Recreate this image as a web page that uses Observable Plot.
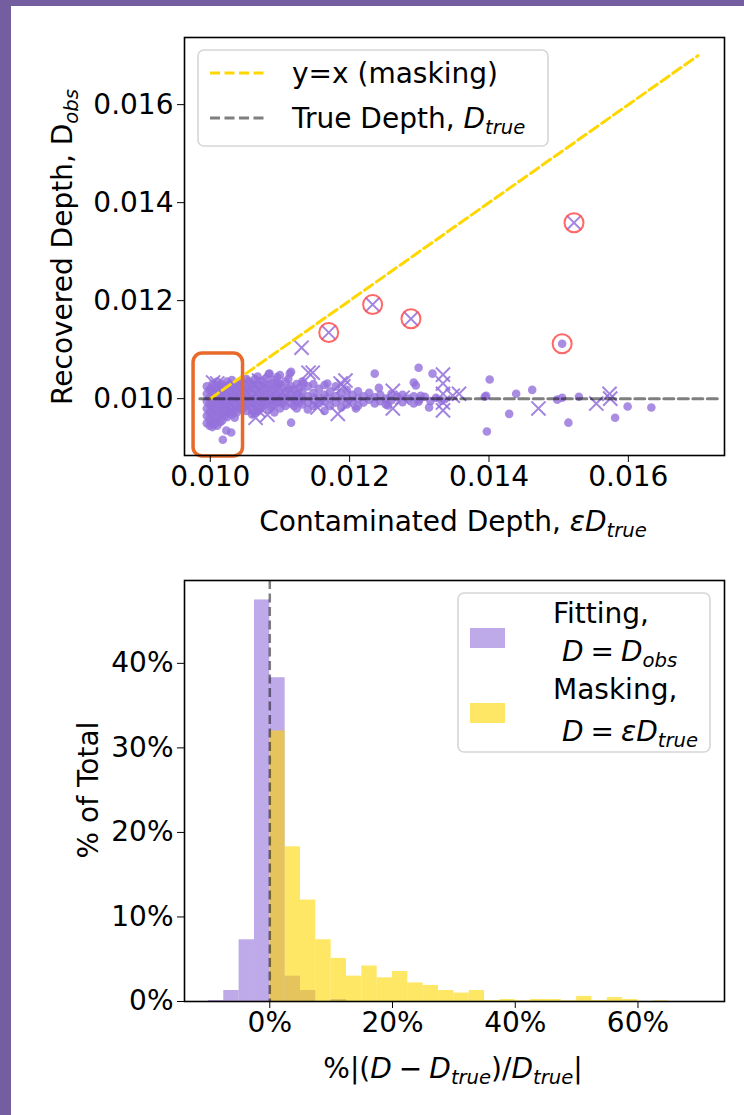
<!DOCTYPE html>
<html><head><meta charset="utf-8">
<script src="https://cdn.jsdelivr.net/npm/d3@7"></script>
<script src="https://cdn.jsdelivr.net/npm/@observablehq/plot@0.6"></script>
<style>
html,body{margin:0;padding:0;width:744px;height:1115px;overflow:hidden;background:#755ea0;font-family:"DejaVu Sans",sans-serif;}
#page{position:absolute;left:11px;top:6px;width:733px;height:1109px;background:#fff;}
#c1,#c2{position:absolute;left:0;}
#c1{top:0px} #c2{top:540px}
svg{overflow:visible}
</style></head><body><div id="page"></div><div id="c1"></div><div id="c2"></div>
<script>
// ---------- Top chart data (Contaminated depth vs recovered depth) ----------
const xTicks = [0.010, 0.012, 0.014, 0.016];
const yTicks = [0.010, 0.012, 0.014, 0.016];

// dense cluster of fitted dots, listed column by column: [x, [y values]]
const dotColumns = [
  [0.00995, [0.01025,0.01010,0.00995,0.00980,0.00965,0.00950]],
  [0.00999, [0.01018,0.01002,0.00988,0.00972,0.00958,0.00945]],
  [0.01003, [0.01030,0.01015,0.01000,0.00985,0.00970,0.00955,0.00942]],
  [0.01006, [0.01022,0.01008,0.00992,0.00978,0.00962,0.00948]],
  [0.01010, [0.01035,0.01020,0.01005,0.00990,0.00975,0.00960,0.00945]],
  [0.01014, [0.01028,0.01012,0.00997,0.00982,0.00967,0.00952]],
  [0.01017, [0.01030,0.01015,0.01000,0.00985,0.00970,0.00955]],
  [0.01021, [0.01025,0.01010,0.00995,0.00980,0.00965]],
  [0.01024, [0.01035,0.01020,0.01005,0.00990,0.00975,0.00962]],
  [0.01028, [0.01030,0.01015,0.01000,0.00985,0.00972]],
  [0.01031, [0.01038,0.01025,0.01010,0.00995,0.00980,0.00968]],
  [0.01035, [0.01022,0.01005,0.00990,0.00976]],
  [0.01038, [0.01030,0.01015,0.01000,0.00985,0.00972]],
  [0.01042, [0.01028,0.01012,0.00997,0.00982]],
  [0.01045, [0.01035,0.01020,0.01005,0.00990,0.00978]],
  [0.01049, [0.01030,0.01012,0.00997,0.00983]],
  [0.01052, [0.01040,0.01022,0.01005,0.00990,0.00975]],
  [0.01056, [0.01035,0.01018,0.01000,0.00985]],
  [0.01060, [0.01030,0.01012,0.00998,0.00982,0.00968]],
  [0.01064, [0.01040,0.01020,0.01003,0.00988,0.00972]],
  [0.01068, [0.01045,0.01025,0.01008,0.00992,0.00975]],
  [0.01072, [0.01028,0.01012,0.00995,0.00980]],
  [0.01076, [0.01035,0.01018,0.01000,0.00985]],
  [0.01080, [0.01040,0.01022,0.01005,0.00990]],
  [0.01084, [0.01050,0.01028,0.01010,0.00995,0.00978]],
  [0.01088, [0.01032,0.01015,0.00998,0.00983]],
  [0.01092, [0.01038,0.01020,0.01002,0.00988,0.00972]],
  [0.01096, [0.01044,0.01025,0.01008,0.00993]],
  [0.01100, [0.01048,0.01030,0.01012,0.00995,0.00980]],
  [0.01104, [0.01022,0.01005,0.00990]],
  [0.01108, [0.01035,0.01015,0.01000,0.00985]],
  [0.01112, [0.01040,0.01020,0.01003]],
  [0.01116, [0.01055,0.01025,0.01008,0.00990,0.00951]],
  [0.01120, [0.01018,0.01000,0.00985]],
  [0.01124, [0.01030,0.01010,0.00995,0.00980]],
  [0.01128, [0.01022,0.01005,0.00992]],
  [0.01132, [0.01035,0.01015,0.01000,0.00988]],
  [0.01140, [0.01025,0.01005,0.00992,0.00978]],
  [0.01148, [0.01030,0.01012,0.00998,0.00985]],
  [0.01156, [0.01020,0.01003,0.00990]],
  [0.01164, [0.01028,0.01008,0.00995,0.00975]],
  [0.01172, [0.01015,0.01000,0.00985]],
  [0.01180, [0.01025,0.01005,0.00992]],
  [0.01188, [0.01012,0.00998,0.00982]],
  [0.01196, [0.01018,0.01002,0.00988]],
  [0.01204, [0.01008,0.00995]],
  [0.01212, [0.01015,0.01000,0.00985]],
  [0.01220, [0.01005,0.00992]],
  [0.01228, [0.01012,0.00998]],
  [0.01236, [0.01003,0.00990]],
  [0.01244, [0.01008,0.00995]],
  [0.01252, [0.01000,0.00988]],
  [0.01260, [0.01010,0.00997]],
  [0.01268, [0.01003]],
  [0.01276, [0.01008,0.00993]],
  [0.01284, [0.01000]],
  [0.01292, [0.01005,0.00990]],
  [0.01300, [0.00998]],
  [0.01308, [0.01004]],
  [0.01316, [0.00995]],
  [0.01324, [0.01002]],
  [0.01332, [0.00996]]
];
// isolated fitted dots [x, y]
const dotsOther = [
  [0.01018,0.00916],[0.01023,0.00935],[0.01030,0.00931],[0.01035,0.00961],
  [0.01085,0.01051],[0.01114,0.01051],[0.01098,0.01031],[0.01134,0.01031],[0.01168,0.01031],
  [0.01236,0.01051],[0.01242,0.01022],[0.01209,0.00980],[0.01255,0.00986],
  [0.01299,0.01063],[0.01319,0.01051],[0.01292,0.01033],[0.01295,0.01027],
  [0.01302,0.01006],[0.01299,0.00994],[0.01314,0.00982],
  [0.01401,0.01039],[0.01396,0.01006],[0.01397,0.00933],[0.01394,0.01004],
  [0.01429,0.00969],[0.01439,0.01010],[0.01462,0.01018],[0.01498,0.00998],
  [0.01505,0.01002],[0.01529,0.01004],[0.01514,0.00951],[0.01581,0.00961],
  [0.01599,0.00984],[0.01633,0.00982],[0.01505,0.01112]
];
// fitted points drawn as crosses [x, y]
const crossPts = [
  [0.01170,0.01135],[0.01233,0.01192],[0.01288,0.01163],[0.01522,0.01359],[0.01131,0.01104],
  [0.01010,0.01031],[0.01004,0.01033],[0.01070,0.01037],[0.01062,0.01030],
  [0.01141,0.01053],[0.01147,0.01053],[0.01187,0.01031],[0.01191,0.01025],
  [0.01065,0.00961],[0.01069,0.00976],[0.01082,0.00967],[0.01154,0.00982],
  [0.01158,0.00996],[0.01183,0.00969],[0.01194,0.01037],[0.01199,0.00990],
  [0.01262,0.01016],[0.01262,0.00980],[0.01276,0.01002],
  [0.01334,0.01049],[0.01334,0.01031],[0.01334,0.01010],[0.01334,0.00992],[0.01334,0.00976],
  [0.01348,0.01006],[0.01357,0.01010],
  [0.01471,0.00980],[0.01554,0.00990],[0.01573,0.01010],[0.01574,0.01000]
];
// highlighted (circled) points [x, y]
const circledPts = [
  [0.01170,0.01135],[0.01233,0.01192],[0.01288,0.01163],[0.01522,0.01359],[0.01505,0.01112]
];
const diagEnds = [0.010, 0.017];          // y = x line
const trueDepth = 0.010;                  // D_true
const trueSpan = [0.00985, 0.0173];
const boxCorners = {x1:0.00976, x2:0.01047, y1:0.00882, y2:0.01092}; // highlighted region

// ---------- Bottom chart data (histograms, % of total) ----------
const binWidth = 2.5;
const fitBinStart  = [-10, -7.5, -5, -2.5, 0, 2.5, 5, 10];
const fitPct       = [0.12, 1.3, 7.3, 47.5, 38.3, 3.0, 1.3, 0.24];
const maskBinStart = [0, 2.5, 5, 7.5, 10, 12.5, 15, 17.5, 20, 22.5, 25, 27.5, 30, 32.5, 35, 37.5, 40, 42.5, 45, 47.5, 50, 52.5, 55, 57.5, 62.5];
const maskPct      = [32.0, 18.3, 12.0, 7.3, 5.1, 3.0, 4.2, 2.8, 3.55, 2.2, 1.9, 1.3, 1.0, 1.3, 0.12, 0.24, 0.08, 0.24, 0.24, 0.08, 0.6, 0.12, 0.47, 0.24, 0.08];
const hxTicks = [0, 20, 40, 60];
const hyTicks = [0, 10, 20, 30, 40];

// ---------- build tables ----------
const dots = [
  ...dotColumns.flatMap(([x, ys]) => ys.map(y => ({x, y}))),
  ...dotsOther.map(([x, y]) => ({x, y}))
];
const crosses = crossPts.map(([x, y]) => ({x, y}));
const circled = circledPts.map(([x, y]) => ({x, y}));
const diag = diagEnds.map(v => ({x: v, y: v}));
const trueLine = trueSpan.map(x => ({x, y: trueDepth}));
const fitBins = fitBinStart.map((s, i) => ({x1: s, x2: s + binWidth, y: fitPct[i]}));
const maskBins = maskBinStart.map((s, i) => ({x1: s, x2: s + binWidth, y: maskPct[i]}));

const PURPLE = "#9370DB", GOLD = "#FFD700";
const FS = 28;
const baseStyle = {fontFamily: "DejaVu Sans", fontSize: FS + "px", color: "black", background: "transparent", overflow: "visible"};
const SP = "\u2005"; // narrow math space

// text helper with italic / subscript parts
function richText(sel, x, y, parts, opts = {}) {
  const t = sel.append("text")
    .attr("x", x).attr("y", y)
    .attr("font-family", "DejaVu Sans")
    .attr("font-size", FS)
    .attr("fill", "black")
    .attr("text-anchor", opts.anchor || "start");
  if (opts.transform) t.attr("transform", opts.transform);
  let inSub = false;
  for (const p of parts) {
    const ts = t.append("tspan").text(p.t);
    if (p.i) ts.attr("font-style", "italic");
    if (p.sub) {
      ts.attr("font-size", FS * 0.7);
      if (!inSub) ts.attr("dy", FS * 0.2);
      inSub = true;
    } else {
      if (inSub) ts.attr("dy", -FS * 0.2);
      inSub = false;
    }
  }
  return t;
}

// ---------- Top chart ----------
const p1 = Plot.plot({
  width: 744, height: 540,
  marginLeft: 184, marginRight: 20, marginTop: 37, marginBottom: 85,
  x: {domain: [0.00963, 0.01738]},
  y: {domain: [0.00884, 0.01737]},
  style: baseStyle,
  marks: [
    Plot.dot(dots, {x: "x", y: "y", r: 4.3, fill: PURPLE, fillOpacity: 0.8}),
    Plot.dot(crosses, {x: "x", y: "y", symbol: "times", r: 6.5, stroke: PURPLE, strokeOpacity: 0.85, strokeWidth: 2}),
    Plot.dot(circled, {x: "x", y: "y", r: 9.5, stroke: "#ff4d4d", strokeOpacity: 0.85, strokeWidth: 2, fill: "none"}),
    Plot.line(diag, {x: "x", y: "y", stroke: GOLD, strokeWidth: 3, strokeDasharray: "10,4.5"}),
    Plot.line(trueLine, {x: "x", y: "y", stroke: "black", strokeOpacity: 0.5, strokeWidth: 3, strokeDasharray: "10,4.5"}),
    Plot.rect([boxCorners], {x1: "x1", x2: "x2", y1: "y1", y2: "y2", rx: 9, stroke: "#e8692a", strokeWidth: 3.5, fill: "none"}),
    Plot.frame({stroke: "black", strokeWidth: 1.6}),
    Plot.axisX({ticks: xTicks, tickFormat: d3.format(".3f"), tickSize: 7, tickPadding: 4, label: null, fontSize: FS}),
    Plot.axisY({ticks: yTicks, tickFormat: d3.format(".3f"), tickSize: 7, tickPadding: 4, label: null, fontSize: FS})
  ]
});
document.getElementById("c1").appendChild(p1);
const s1 = d3.select(p1);
// legend 1
const lg1 = s1.append("g");
lg1.append("rect").attr("x", 198).attr("y", 50).attr("width", 350).attr("height", 96).attr("rx", 6)
  .attr("fill", "white").attr("fill-opacity", 0.8).attr("stroke", "#d6d6d6").attr("stroke-width", 1.6);
lg1.append("line").attr("x1", 210).attr("x2", 268).attr("y1", 73).attr("y2", 73)
  .attr("stroke", GOLD).attr("stroke-width", 3).attr("stroke-dasharray", "10,4.5");
lg1.append("line").attr("x1", 210).attr("x2", 268).attr("y1", 118).attr("y2", 118)
  .attr("stroke", "black").attr("stroke-opacity", 0.5).attr("stroke-width", 3).attr("stroke-dasharray", "10,4.5");
richText(lg1, 292, 83, [{t: "y=x (masking)"}]);
richText(lg1, 292, 128, [{t: "True Depth, "}, {t: "D", i: true}, {t: "true", i: true, sub: true}]);
// axis labels
richText(s1, 453, 531, [{t: "Contaminated Depth, "}, {t: "εD", i: true}, {t: "true", i: true, sub: true}], {anchor: "middle"});
richText(s1, 0, 0, [{t: "Recovered Depth, D"}, {t: "obs", i: true, sub: true}], {anchor: "middle", transform: "translate(72,247) rotate(-90)"});

// ---------- Bottom chart ----------
const p2 = Plot.plot({
  width: 744, height: 575,
  marginLeft: 184, marginRight: 20, marginTop: 40, marginBottom: 114,
  x: {domain: [-13.9, 74.1]},
  y: {domain: [0, 49.8]},
  style: baseStyle,
  marks: [
    Plot.rectY(fitBins, {x1: "x1", x2: "x2", y: "y", fill: PURPLE, fillOpacity: 0.6, insetLeft: 0, insetRight: 0}),
    Plot.rectY(maskBins, {x1: "x1", x2: "x2", y: "y", fill: GOLD, fillOpacity: 0.6, insetLeft: 0, insetRight: 0}),
    Plot.ruleX([0], {stroke: "black", strokeOpacity: 0.5, strokeWidth: 2.5, strokeDasharray: "9,4.5"}),
    Plot.frame({stroke: "black", strokeWidth: 1.6}),
    Plot.axisX({ticks: hxTicks, tickFormat: d => d + "%", tickSize: 7, tickPadding: 4, label: null, fontSize: FS}),
    Plot.axisY({ticks: hyTicks, tickFormat: d => d + "%", tickSize: 7, tickPadding: 4, label: null, fontSize: FS})
  ]
});
document.getElementById("c2").appendChild(p2);
const s2 = d3.select(p2);
const lg2 = s2.append("g");
lg2.append("rect").attr("x", 458).attr("y", 53).attr("width", 252).attr("height", 159).attr("rx", 6)
  .attr("fill", "white").attr("fill-opacity", 0.8).attr("stroke", "#d6d6d6").attr("stroke-width", 1.6);
lg2.append("rect").attr("x", 470).attr("y", 88).attr("width", 35).attr("height", 20).attr("fill", PURPLE).attr("fill-opacity", 0.6);
lg2.append("rect").attr("x", 470).attr("y", 163).attr("width", 35).attr("height", 20).attr("fill", GOLD).attr("fill-opacity", 0.6);
richText(lg2, 553, 83, [{t: "Fitting,"}]);
richText(lg2, 562, 121, [{t: "D", i: true}, {t: SP + "=" + SP}, {t: "D", i: true}, {t: "obs", i: true, sub: true}]);
richText(lg2, 553, 159, [{t: "Masking,"}]);
richText(lg2, 562, 201, [{t: "D", i: true}, {t: SP + "=" + SP}, {t: "εD", i: true}, {t: "true", i: true, sub: true}]);
richText(s2, 453, 538, [{t: "%|("}, {t: "D", i: true}, {t: SP + "−" + SP}, {t: "D", i: true}, {t: "true", i: true, sub: true}, {t: ")/"}, {t: "D", i: true}, {t: "true", i: true, sub: true}, {t: "|"}], {anchor: "middle"});
richText(s2, 0, 0, [{t: "% of Total"}], {anchor: "middle", transform: "translate(98,250) rotate(-90)"});
</script></body></html>
